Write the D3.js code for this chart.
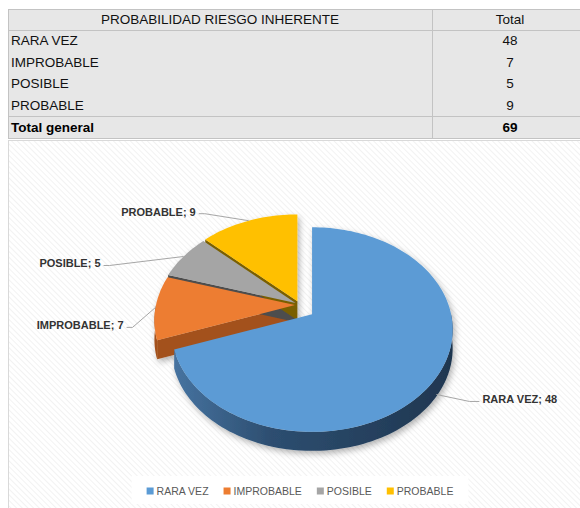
<!DOCTYPE html>
<html>
<head>
<meta charset="utf-8">
<script src="https://cdn.jsdelivr.net/npm/d3@7"></script>
<style>
  body { margin: 0; background: #fff; }
  svg { display: block; font-family: "Liberation Sans", Arial, sans-serif; }
</style>
</head>
<body>
<div id="chart"></div>
<script>
// data
var categories = ["RARA VEZ", "IMPROBABLE", "POSIBLE", "PROBABLE"];
var values = [48, 7, 5, 9];
var headerLabels = ["PROBABILIDAD RIESGO INHERENTE", "Total"];
var totalLabel = "Total general";

var colors = ["#5b9bd5", "#ed7d31", "#a5a5a5", "#ffc000"];
var wallColors = ["url(#blueSide)", "#a3511c", "#4d4d4d", "#7a5f00"];
var explode = [16, 4, 4, 4];
// label offset from its leader anchor [dx, dy]
var labelOffsets = [[46, 5], [-32, 18], [-83, 7], [-53, -9]];

var width = 580, height = 508;

var svg = d3.select("#chart").append("svg")
    .attr("width", width)
    .attr("height", height);

var defs = svg.append("defs");

var hatch = defs.append("pattern")
    .attr("id", "hatch")
    .attr("width", 4).attr("height", 4)
    .attr("patternUnits", "userSpaceOnUse")
    .attr("patternTransform", "rotate(-45)");
hatch.append("rect").attr("width", 4).attr("height", 4).attr("fill", "#ffffff");
hatch.append("line")
    .attr("x1", 0).attr("y1", 0).attr("x2", 0).attr("y2", 4)
    .attr("stroke", "#ededed").attr("stroke-width", 1.4);

var grad = defs.append("linearGradient").attr("id", "blueSide")
    .attr("x1", 0).attr("x2", 1).attr("y1", 0).attr("y2", 0);
grad.append("stop").attr("offset", 0).attr("stop-color", "#4673a0");
grad.append("stop").attr("offset", 0.35).attr("stop-color", "#2d4e70");
grad.append("stop").attr("offset", 1).attr("stop-color", "#1f3650");

var shadow = defs.append("filter").attr("id", "shadow")
    .attr("x", "-20%").attr("y", "-20%").attr("width", "140%").attr("height", "140%");
shadow.append("feDropShadow")
    .attr("dx", 2).attr("dy", 3).attr("stdDeviation", 3)
    .attr("flood-color", "#000").attr("flood-opacity", 0.3);

// ---------- table ----------
var table = {left: 8, right: 580, top: 9, headBottom: 30, bodyBottom: 116, bottom: 138, split: 432};

svg.append("rect")
    .attr("x", table.left).attr("y", table.top)
    .attr("width", table.right - table.left).attr("height", table.bottom - table.top)
    .attr("fill", "#e7e7e7");

var rowY = d3.scaleBand()
    .domain(categories)
    .range([table.headBottom, table.bodyBottom]);

[table.top, table.headBottom, table.bodyBottom, table.bottom].forEach(function(y) {
    svg.append("line")
        .attr("x1", table.left).attr("x2", table.right)
        .attr("y1", y + 0.5).attr("y2", y + 0.5)
        .attr("stroke", "#c3c3c3");
});
[table.left, table.split].forEach(function(x) {
    svg.append("line")
        .attr("x1", x + 0.5).attr("x2", x + 0.5)
        .attr("y1", table.top).attr("y2", table.bottom)
        .attr("stroke", "#c3c3c3");
});

var numX = (table.split + table.right + 8) / 2;
var tableFont = "13.5px";

svg.append("text")
    .attr("x", (table.left + table.split) / 2)
    .attr("y", (table.top + table.headBottom) / 2)
    .attr("dy", "0.35em")
    .attr("text-anchor", "middle")
    .style("font-size", tableFont)
    .attr("fill", "#111")
    .text(headerLabels[0]);
svg.append("text")
    .attr("x", numX)
    .attr("y", (table.top + table.headBottom) / 2)
    .attr("dy", "0.35em")
    .attr("text-anchor", "middle")
    .style("font-size", tableFont)
    .attr("fill", "#111")
    .text(headerLabels[1]);

categories.forEach(function(c, i) {
    var y = rowY(c) + rowY.bandwidth() / 2;
    svg.append("text")
        .attr("x", table.left + 3).attr("y", y).attr("dy", "0.35em")
        .style("font-size", tableFont).attr("fill", "#111")
        .text(c);
    svg.append("text")
        .attr("x", numX).attr("y", y).attr("dy", "0.35em")
        .attr("text-anchor", "middle")
        .style("font-size", tableFont).attr("fill", "#111")
        .text(values[i]);
});

var totalY = (table.bodyBottom + table.bottom) / 2;
svg.append("text")
    .attr("x", table.left + 3).attr("y", totalY).attr("dy", "0.35em")
    .style("font-size", tableFont).style("font-weight", "bold").attr("fill", "#000")
    .text(totalLabel);
svg.append("text")
    .attr("x", numX).attr("y", totalY).attr("dy", "0.35em")
    .attr("text-anchor", "middle")
    .style("font-size", tableFont).style("font-weight", "bold").attr("fill", "#000")
    .text(d3.sum(values));

// ---------- chart area ----------
svg.append("rect")
    .attr("x", 8.5).attr("y", 140.5)
    .attr("width", width - 8).attr("height", height - 140)
    .attr("fill", "url(#hatch)")
    .attr("stroke", "#d9d9d9");

// ---------- 3D pie ----------
var center = [299, 305], rx = 139, ry = 100, persp = 0.15, depth = 19;

function proj(c, t, z) {
    var s = 1 / (1 + persp * Math.cos(t));
    return [c[0] + rx * Math.sin(t) * s, c[1] - ry * Math.cos(t) * s + z];
}
function arcPts(c, a0, a1, z) {
    var n = Math.max(2, Math.ceil(Math.abs(a1 - a0) / 0.03));
    return d3.range(n + 1).map(function(i) { return proj(c, a0 + (a1 - a0) * i / n, z); });
}

var line = d3.line();
var pie = d3.pie().sort(null).startAngle(0).endAngle(2 * Math.PI);
var arcs = pie(values).map(function(d, i) {
    var mid = (d.startAngle + d.endAngle) / 2;
    d.mid = mid;
    d.c = [center[0] + explode[i] * Math.sin(mid), center[1] - explode[i] * Math.cos(mid)];
    return d;
});

var pieG = svg.append("g").attr("filter", "url(#shadow)");

// radial walls
arcs.forEach(function(d, i) {
    var c = d.c, cb = [c[0], c[1] + depth];
    [d.startAngle, d.endAngle].forEach(function(a, k) {
        var visible = k == 0 ? Math.sin(a) < -0.01 : Math.sin(a) > 0.01;
        if (!visible) return;
        pieG.append("path")
            .attr("d", line([c, proj(c, a, 0), proj(c, a, depth), cb]) + "Z")
            .attr("fill", i == 0 ? "#2d4e70" : wallColors[i]);
    });
});

// outer walls
arcs.forEach(function(d, i) {
    var w0 = Math.max(d.startAngle, Math.PI / 2), w1 = Math.min(d.endAngle, 3 * Math.PI / 2);
    if (w0 >= w1) return;
    var pts = arcPts(d.c, w0, w1, 0).concat(arcPts(d.c, w1, w0, depth));
    pieG.append("path")
        .attr("d", line(pts) + "Z")
        .attr("fill", wallColors[i]);
});

// top faces
arcs.forEach(function(d, i) {
    var pts = [d.c].concat(arcPts(d.c, d.startAngle, d.endAngle, 0));
    pieG.append("path")
        .attr("d", line(pts) + "Z")
        .attr("fill", colors[i]);
});

// data labels with leader lines
arcs.forEach(function(d, i) {
    var anchor = proj(d.c, d.mid, Math.cos(d.mid) < -0.2 ? depth * 0.9 : 0);
    var lx = anchor[0] + labelOffsets[i][0], ly = anchor[1] + labelOffsets[i][1];
    var right = labelOffsets[i][0] > 0;
    var edge = right ? lx - 3 : lx + 3;
    var elbow = right ? edge - 10 : edge + 6;
    svg.append("path")
        .attr("d", line([anchor, [elbow, ly + 2], [edge, ly + 2]]))
        .attr("fill", "none")
        .attr("stroke", "#a6a6a6");
    svg.append("text")
        .attr("x", lx).attr("y", ly).attr("dy", "0.35em")
        .attr("text-anchor", right ? "start" : "end")
        .style("font-size", "11px").style("font-weight", "bold")
        .attr("fill", "#333")
        .text(categories[i] + "; " + values[i]);
});

// ---------- legend ----------
var legendBox = svg.append("rect")
    .attr("fill", "#ffffff");
var legend = svg.append("g");
var xPos = 0;
categories.forEach(function(c, i) {
    var item = legend.append("g").attr("transform", "translate(" + xPos + ",0)");
    item.append("rect")
        .attr("x", 0).attr("y", -3.5)
        .attr("width", 7).attr("height", 7)
        .attr("fill", colors[i]);
    var t = item.append("text")
        .attr("x", 10).attr("y", 0).attr("dy", "0.35em")
        .style("font-size", "10.5px")
        .attr("fill", "#595959")
        .text(c);
    xPos += 10 + t.node().getComputedTextLength() + 15;
});
var legendW = xPos - 15;
var legendX = 300 - legendW / 2, legendY = 491;
legend.attr("transform", "translate(" + legendX + "," + legendY + ")");
legendBox
    .attr("x", legendX - 15).attr("y", legendY - 15)
    .attr("width", legendW + 30).attr("height", 28);
</script>
</body>
</html>
